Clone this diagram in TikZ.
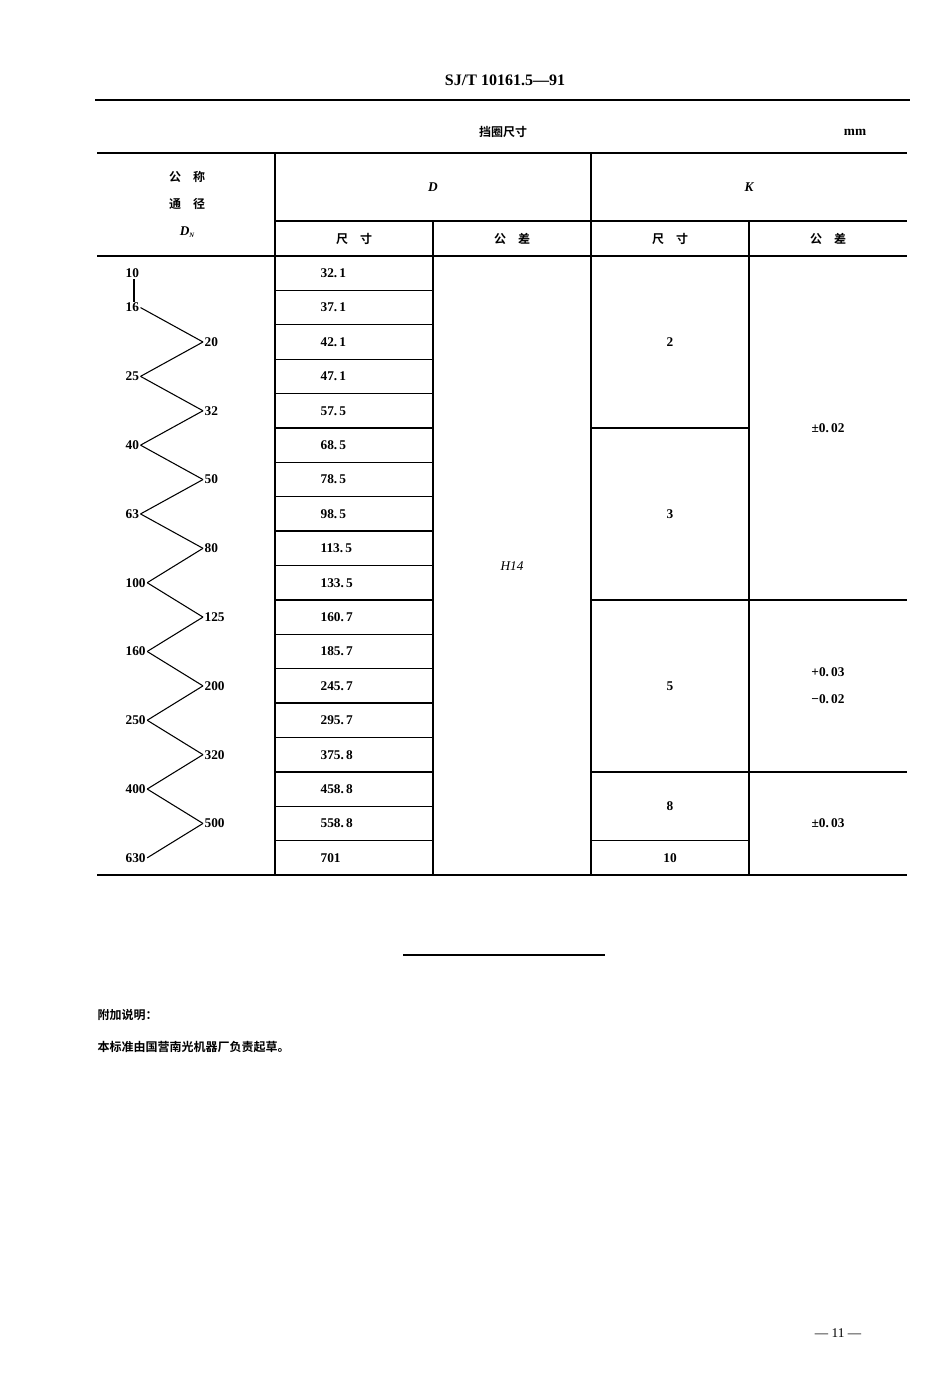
\documentclass[tikz,border=0pt]{standalone}
\usepackage{fontspec}
\newfontfamily\cjk{Noto Sans CJK SC}[BoldFont={* Bold}]
\setmainfont{Liberation Serif}
\begin{document}
\begin{tikzpicture}[x=0.75pt,y=-0.75pt,
  ln/.style={line width=1pt},
  thk/.style={line width=1.5pt},
  num/.style={font=\bfseries, inner sep=1pt},
  hd/.style={font=\cjk\bfseries\small}]
\useasboundingbox (0,0) rectangle (950,1385);
\def\rh{34.39}
\node[font=\bfseries\large] (t) at (505,80) {SJ/T 10161.5—91};
\draw[thk] (95,100) -- (910,100);
\node[hd] (tt) at (503,132) {挡圈尺寸};
\node[font=\bfseries] (mm) at (855,132) {mm};
\draw[thk] (97,153) -- (907,153);
\draw[ln] (275,221) -- (907,221);
\draw[thk] (97,256) -- (907,256);
\draw[thk] (97,875) -- (907,875);
\draw[ln] (275,153) -- (275,875);
\draw[ln] (591,153) -- (591,875);
\draw[ln] (433,221) -- (433,875);
\draw[ln] (749,221) -- (749,875);
\node[hd] (h1) at (187,177) {公\quad 称};
\node[hd] (h2) at (187,204) {通\quad 径};
\node[font=\bfseries\itshape] (h3) at (187,232) {D\raisebox{-0.3ex}{\tiny N}};
\node[font=\bfseries\itshape] (hD) at (433,187) {D};
\node[font=\bfseries\itshape] (hK) at (749,187) {K};
\node[hd] (a1) at (354,239) {尺\quad 寸};
\node[hd] (a2) at (512,239) {公\quad 差};
\node[hd] (a3) at (670,239) {尺\quad 寸};
\node[hd] (a4) at (828,239) {公\quad 差};
\foreach \i/\v in {0/32.\,1,1/37.\,1,2/42.\,1,3/47.\,1,4/57.\,5,5/68.\,5,6/78.\,5,7/98.\,5,8/113.\,5,9/133.\,5,10/160.\,7,11/185.\,7,12/245.\,7,13/295.\,7,14/375.\,8,15/458.\,8,16/558.\,8,17/701}{
  \node[num,anchor=west] (d\i) at (319,{256+\rh*(\i+0.5)}) {\v};
  \draw[ln] (275,{256+\rh*(\i+1)}) -- (433,{256+\rh*(\i+1)});
}
\draw[ln] (591,{256+\rh*5}) -- (749,{256+\rh*5});
\draw[ln] (591,{256+\rh*10}) -- (907,{256+\rh*10});
\draw[ln] (591,{256+\rh*15}) -- (907,{256+\rh*15});
\draw[ln] (591,{256+\rh*17}) -- (749,{256+\rh*17});
\node[font=\itshape] (h14) at (512,566) {H14};
\node[num] (k1) at (670,342) {2};
\node[num] (k2) at (670,514) {3};
\node[num] (k3) at (670,686) {5};
\node[num] (k4) at (670,806) {8};
\node[num] (k5) at (670,858) {10};
\node[num] (t1) at (828,428) {±0.\,02};
\node[num] (t2) at (828,672) {+0.\,03};
\node[num] (t3) at (828,699) {−0.\,02};
\node[num] (t4) at (828,823) {±0.\,03};
\foreach \i/\v/\s in {0/10/L,1/16/L,2/20/R,3/25/L,4/32/R,5/40/L,6/50/R,7/63/L,8/80/R,9/100/L,10/125/R,11/160/L,12/200/R,13/250/L,14/320/R,15/400/L,16/500/R,17/630/L}{
  \if\s L
    \node[num,anchor=west] (z\i) at (124,{256+\rh*(\i+0.5)}) {\v};
  \else
    \node[num,anchor=west] (z\i) at (203,{256+\rh*(\i+0.5)}) {\v};
  \fi
}
\path (z0.south west) ++(10,0) coordinate (c0) (z1.north west) ++(10,0) coordinate (c1);
\draw[line width=0.8pt] (c0) -- (c1);
\foreach \a/\b in {1/2,2/3,3/4,4/5,5/6,6/7,7/8,8/9,9/10,10/11,11/12,12/13,13/14,14/15,15/16,16/17}{
  \pgfmathtruncatemacro{\ev}{mod(\a,2)}
  \ifnum\ev=1 \draw[line width=0.8pt] (z\a.east) -- (z\b.west);
  \else \draw[line width=0.8pt] (z\a.west) -- (z\b.east); \fi
}
\draw[ln] (403,955) -- (605,955);
\node[hd,anchor=west] (f1) at (93,1015) {附加说明：};
\node[hd,anchor=west] (f2) at (93,1047) {本标准由国营南光机器厂负责起草。};
\node (pg) at (838,1333) {— 11 —};
\end{tikzpicture}
\end{document}
